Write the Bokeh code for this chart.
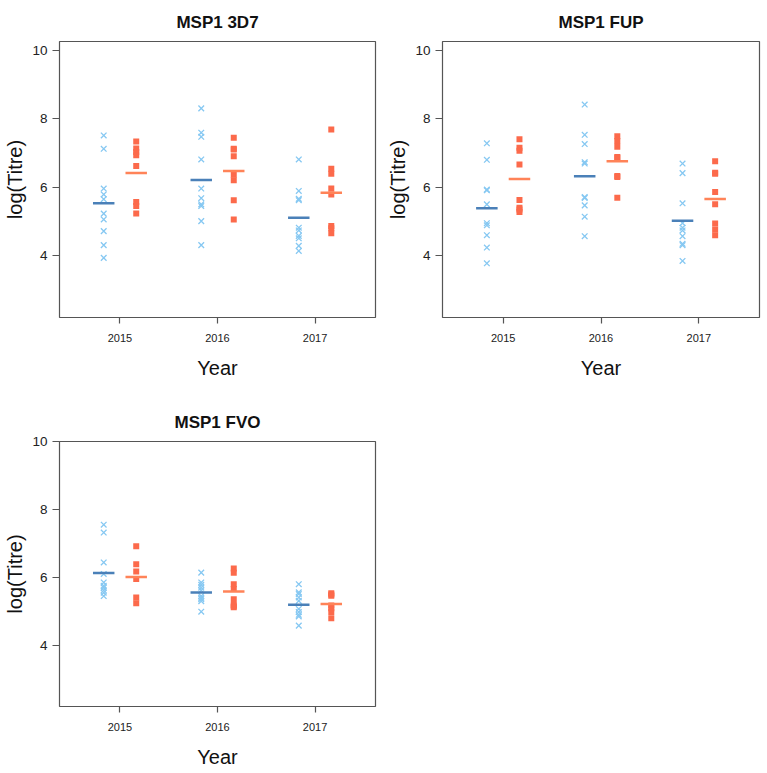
import numpy as np
from bokeh.plotting import figure
from bokeh.layouts import column, row
from bokeh.models import Range1d, FixedTicker
from bokeh.embed import file_html
from bokeh.resources import INLINE

years = [2015, 2016, 2017]
year_labels = ["2015", "2016", "2017"]
titles = ["MSP1 3D7", "MSP1 FUP", "MSP1 FVO"]
y_ticks = [4, 6, 8, 10]

# blue crosses (group A) and orange squares (group B), per year 2015/2016/2017
msp1_3d7_a = [
    [7.51, 7.12, 5.96, 5.79, 5.65, 5.23, 5.06, 4.72, 4.31, 3.94],
    [8.30, 7.59, 7.47, 6.81, 5.96, 5.68, 5.50, 5.45, 5.01, 4.31],
    [6.81, 5.89, 5.66, 5.62, 4.82, 4.74, 4.58, 4.51, 4.29, 4.14],
]
msp1_3d7_b = [
    [7.33, 7.13, 7.03, 6.93, 6.62, 5.57, 5.45, 5.23],
    [7.44, 7.12, 7.10, 6.90, 6.36, 6.20, 5.62, 5.06],
    [7.68, 6.54, 6.39, 5.96, 5.79, 4.87, 4.80, 4.66],
]
msp1_fup_a = [
    [7.28, 6.80, 5.93, 5.91, 5.50, 4.95, 4.89, 4.60, 4.24, 3.78],
    [8.41, 7.53, 7.26, 6.73, 6.69, 5.71, 5.69, 5.47, 5.14, 4.57],
    [6.69, 6.41, 5.53, 4.95, 4.82, 4.74, 4.57, 4.35, 4.31, 3.85],
]
msp1_fup_b = [
    [7.40, 7.15, 7.06, 6.66, 5.63, 5.40, 5.35, 5.28],
    [7.49, 7.35, 7.18, 6.88, 6.86, 6.33, 6.30, 5.69],
    [6.76, 6.42, 6.39, 5.86, 5.50, 4.94, 4.77, 4.60],
]
msp1_fvo_a = [
    [7.55, 7.32, 6.44, 6.10, 5.85, 5.75, 5.70, 5.62, 5.55, 5.45],
    [6.14, 5.85, 5.78, 5.70, 5.62, 5.45, 5.40, 5.36, 5.30, 4.99],
    [5.80, 5.56, 5.51, 5.41, 5.31, 5.07, 4.98, 4.90, 4.85, 4.58],
]
msp1_fvo_b = [
    [6.92, 6.39, 6.17, 5.95, 5.41, 5.24],
    [6.26, 6.14, 5.80, 5.66, 5.36, 5.19, 5.15, 5.12],
    [5.53, 5.50, 5.46, 5.17, 5.09, 4.98, 4.80],
]

FONT = "Liberation Sans"
BLUE_PT = "#86C8F2"
BLUE_MEAN = "#4A80B8"
ORANGE_PT = "#FC6A4B"
ORANGE_MEAN = "#FF8358"
OFFSET = 1.0 / 6.0
HALF = 0.11


def make_panel(title, grp_a, grp_b, width, height, ymax, border_bottom):
    p = figure(width=width, height=height, output_backend="svg", toolbar_location=None,
               x_range=Range1d(2014.38, 2017.62), y_range=Range1d(2.2, ymax),
               min_border_left=59, min_border_right=8, min_border_top=41,
               min_border_bottom=border_bottom)
    p.xgrid.visible = False
    p.ygrid.visible = False
    p.outline_line_color = "#555555"
    p.outline_line_width = 1.2
    p.background_fill_color = "white"
    p.border_fill_color = "white"

    p.title.text = title
    p.title.text_font = FONT
    p.title.text_font_size = "17px"
    p.title.text_font_style = "bold"
    p.title.align = "center"
    p.title.text_color = "#111111"
    p.title.standoff = 20

    for ax in (p.xaxis[0], p.yaxis[0]):
        ax.axis_line_color = None
        ax.major_tick_line_color = "#555555"
        ax.major_tick_line_width = 1.2
        ax.minor_tick_line_color = None
        ax.major_tick_in = 0
        ax.major_label_text_font = FONT
        ax.major_label_text_color = "#222222"
        ax.axis_label_text_font = FONT
        ax.axis_label_text_font_style = "normal"
        ax.axis_label_text_color = "#111111"
        ax.axis_label_text_font_size = "20px"

    p.xaxis.ticker = FixedTicker(ticks=years)
    p.xaxis.major_label_overrides = {y: s for y, s in zip(years, year_labels)}
    p.xaxis.major_tick_out = 6
    p.xaxis.major_label_text_font_size = "11px"
    p.xaxis.major_label_standoff = 10
    p.xaxis.axis_label = "Year"
    p.xaxis.axis_label_standoff = 12

    p.yaxis.ticker = FixedTicker(ticks=y_ticks)
    p.yaxis.major_tick_out = 7
    p.yaxis.major_label_text_font_size = "13.5px"
    p.yaxis.major_label_standoff = 5
    p.yaxis.axis_label = "log(Titre)"
    p.yaxis.axis_label_standoff = 3

    for i, yr in enumerate(years):
        a = grp_a[i]
        b = grp_b[i]
        xa = [yr - OFFSET] * len(a)
        xb = [yr + OFFSET] * len(b)
        p.scatter(xa, a, marker="x", size=8, line_color=BLUE_PT, line_width=1.3)
        p.scatter(xb, b, marker="square", size=6, fill_color=ORANGE_PT,
                  line_color=None)
        ma = float(np.mean(a))
        mb = float(np.mean(b))
        p.segment(x0=[yr - OFFSET - HALF], x1=[yr - OFFSET + HALF], y0=[ma], y1=[ma],
                  line_color=BLUE_MEAN, line_width=2.5)
        p.segment(x0=[yr + OFFSET - HALF], x1=[yr + OFFSET + HALF], y0=[mb], y1=[mb],
                  line_color=ORANGE_MEAN, line_width=2.5)
    return p


p1 = make_panel(titles[0], msp1_3d7_a, msp1_3d7_b, 383, 400, 10.25, 83)
p2 = make_panel(titles[1], msp1_fup_a, msp1_fup_b, 384, 400, 10.25, 83)
p3 = make_panel(titles[2], msp1_fvo_a, msp1_fvo_b, 383, 370, 10.0, 62)

layout = column(row(p1, p2, spacing=0), p3, spacing=0)
open("out.html", "w").write(file_html(layout, INLINE))
